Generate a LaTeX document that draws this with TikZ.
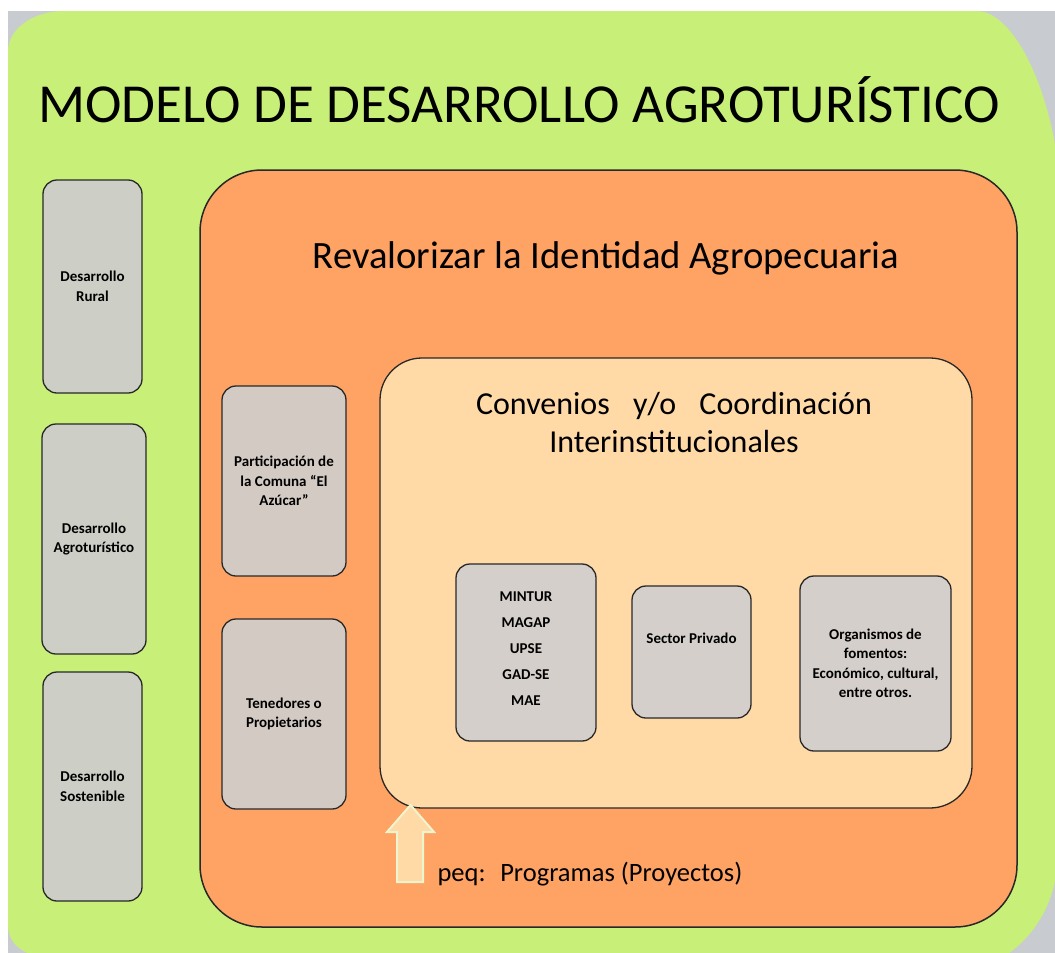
\documentclass[tikz,border=0pt]{standalone}
\usepackage{fontspec}
\setmainfont{Carlito}
\definecolor{bggray}{RGB}{200,203,207}
\definecolor{lime}{RGB}{200,240,120}
\definecolor{orng}{RGB}{255,163,101}
\definecolor{peach}{RGB}{255,217,166}
\definecolor{boxA}{RGB}{205,207,199}
\definecolor{boxB}{RGB}{211,202,196}
\definecolor{boxC}{RGB}{212,207,202}
\definecolor{arrowline}{RGB}{236,246,206}
\definecolor{edge}{RGB}{40,40,40}
\tikzset{
  sidebox/.style={draw=edge, line width=1.3pt, rounded corners=14pt, fill=boxA,
    font=\bfseries\fontsize{15}{19.5}\selectfont, align=center, inner sep=2pt},
  midbox/.style={sidebox, fill=boxB},
  instbox/.style={sidebox, fill=boxC},
}
\begin{document}
\begin{tikzpicture}[x=1pt,y=-1pt]
\useasboundingbox (0,0) rectangle (1055,953);
\fill[white] (0,0) rectangle (1055,953);
\fill[lime] (8,11) rectangle (1056,954);
% gray slide background visible at the corners of the green panel
\fill[bggray] (8,11) -- (63,11) .. controls (33,11) and (8,29) .. (8,51) -- cycle;
\fill[bggray] (977,11) -- (1056,11) -- (1056,150) .. controls (1045,80) and (1012,11) .. (977,11) -- cycle;
\fill[bggray] (1056,954) -- (1008,954) .. controls (1035,935) and (1052,905) .. (1056,875) -- cycle;
\fill[bggray] (8,954) -- (8,926) .. controls (8,940) and (18,950) .. (30,954) -- cycle;
\node[anchor=west, font=\fontsize{55}{60}\selectfont] (title) at (35,100) {MODELO DE DESARROLLO AGROTURÍSTICO};
% orange panel
\filldraw[fill=orng, draw=edge, line width=1.5pt, rounded corners=62pt] (200,170) rectangle (1017,927);
\node[font=\fontsize{38.7}{42}\selectfont] (reval) at (606,258) {Revalorizar la Identidad Agropecuaria};
% peach panel
\filldraw[fill=peach, draw=edge, line width=1.3pt, rounded corners=42pt] (380,358) rectangle (972,808);
\node[font=\fontsize{32}{38}\selectfont, align=center] (conv) at (674,423) {Convenios\hspace{0.5em} y/o\hspace{0.5em} Coordinación\\Interinstitucionales};
% left boxes
\node[sidebox, minimum width=99pt, minimum height=213pt] (rural) at (92.5,286.5) {Desarrollo\\Rural};
\node[sidebox, minimum width=104pt, minimum height=230pt] (agro) at (94,539) {Desarrollo\\Agroturístico};
\node[sidebox, minimum width=99pt, minimum height=229pt] (sost) at (92.5,786.5) {Desarrollo\\Sostenible};
% middle boxes
\node[midbox, minimum width=124pt, minimum height=190pt] (part) at (284,481) {Participación de\\la Comuna “El\\Azúcar”};
\node[midbox, minimum width=124pt, minimum height=190pt] (ten) at (284,714) {Tenedores o\\Propietarios};
% institution boxes
\node[instbox, minimum width=140pt, minimum height=177pt] (inst) at (526,652.5) {};
\node[font=\bfseries\fontsize{15}{19.5}\selectfont, align=center] (instt) at (526,649) {MINTUR\\[6.5pt]MAGAP\\[6.5pt]UPSE\\[6.5pt]GAD-SE\\[6.5pt]MAE};
\node[instbox, minimum width=119pt, minimum height=132pt] (priv) at (691.5,652) {};
\node[font=\bfseries\fontsize{15}{19.5}\selectfont] (privt) at (691.5,638) {Sector Privado};
\node[instbox, minimum width=151pt, minimum height=175pt] (org) at (875.5,663.5) {Organismos de\\fomentos:\\Económico, cultural,\\entre otros.};
% arrow
\filldraw[fill=peach, draw=arrowline, line width=2pt, line join=miter]
  (410.5,805) -- (434,832) -- (423,832) -- (423,882) -- (397,882) -- (397,832) -- (387,832) -- cycle;
\node[anchor=west, font=\fontsize{26.5}{30}\selectfont] (peq) at (434,874) {peq:\hspace{0.25em} Programas (Proyectos)};
\end{tikzpicture}
\end{document}
